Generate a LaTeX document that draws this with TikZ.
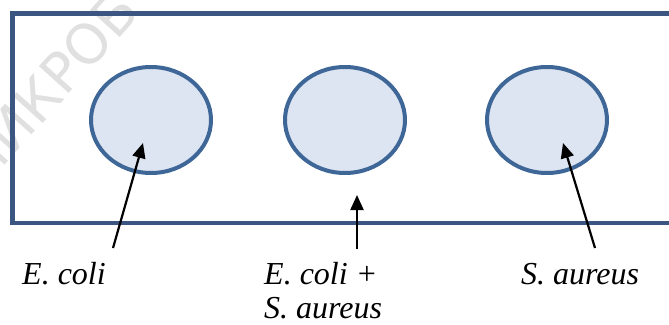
\documentclass[tikz,border=0pt]{standalone}
\usepackage{fontspec}
\setmainfont{Liberation Serif}
\newfontfamily\wmfont{DejaVu Sans}
\usetikzlibrary{arrows.meta}
\definecolor{framecol}{RGB}{60,86,130}
\definecolor{ellcol}{RGB}{62,103,151}
\definecolor{ellfill}{RGB}{221,229,242}
\definecolor{wmcol}{RGB}{224,224,224}
\tikzset{
  frameline/.style={draw=framecol,line width=4.5pt,line cap=butt},
  well/.style={draw=ellcol,fill=ellfill,line width=4pt},
  pointer/.style={draw=black,line width=2.2pt,-{Triangle[length=15pt,width=13pt]}},
  lbl/.style={font=\fontsize{32}{34}\selectfont\itshape,inner sep=0pt,anchor=base west,align=left}
}
\begin{document}
\begin{tikzpicture}[x=1pt,y=-1pt]
\useasboundingbox (0,0) rectangle (669,324);
\begin{scope}
\clip (0,0) rectangle (669,324);
\node[text=wmcol,font=\wmfont\fontsize{55}{55}\selectfont,rotate=48,anchor=base west,inner sep=0pt] (wm) at (-20,193) {МИКРОБ};
\end{scope}
\coordinate (tr) at (672,13.5);
\coordinate (tl) at (12.5,13.5);
\coordinate (bl) at (12.5,223);
\coordinate (br) at (672,223);
\draw[frameline] (tr) -- (tl) -- (bl) -- (br);
\draw[well] (151,120) ellipse [x radius=60,y radius=53] node (w1) {};
\draw[well] (345,120) ellipse [x radius=60,y radius=53] node (w2) {};
\draw[well] (547,120) ellipse [x radius=60,y radius=53] node (w3) {};
\coordinate (t1) at (113,248);
\coordinate (h1) at (143,143);
\coordinate (t2) at (357,249);
\coordinate (h2) at (357,195);
\coordinate (t3) at (595,248);
\coordinate (h3) at (563,143);
\draw[pointer] (t1) -- (h1);
\draw[pointer] (t2) -- (h2);
\draw[pointer] (t3) -- (h3);
\node[lbl] (l1) at (22,284) {E. coli};
\node[lbl] (l2) at (264,318) {E. coli +\\S. aureus};
\node[lbl] (l3) at (521,284) {S. aureus};
\end{tikzpicture}
\end{document}
